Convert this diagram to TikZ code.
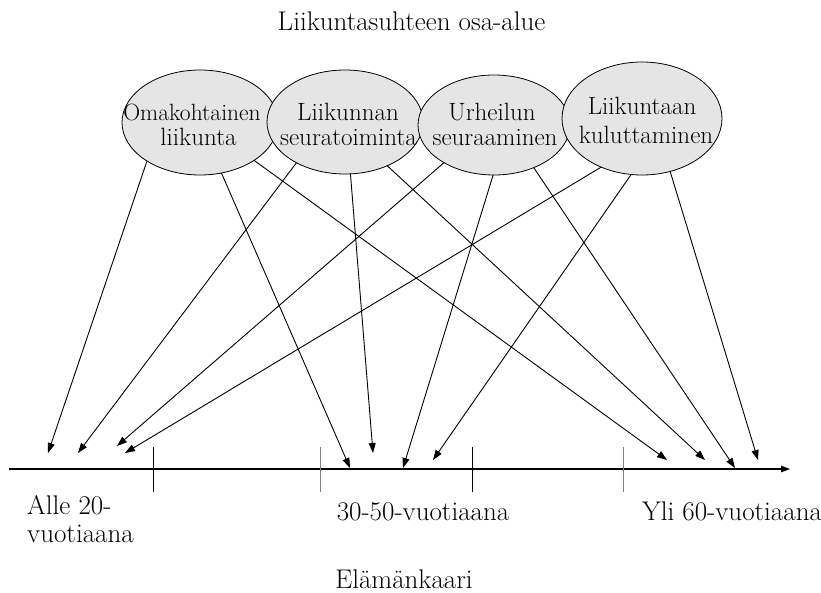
\documentclass[tikz,border=0pt]{standalone}
\usepackage{fontspec}
\usetikzlibrary{arrows.meta,shapes.geometric}
\begin{document}
\begin{tikzpicture}[x=1pt,y=-1pt,
  oval/.style={ellipse,draw=black,line width=0.8pt,fill=black!10,inner sep=0pt,outer sep=0pt},
  etext/.style={anchor=base,inner sep=0pt,font=\fontsize{25}{30}\selectfont},
  ltext/.style={anchor=base,inner sep=0pt,font=\fontsize{27}{32}\selectfont},
  link/.style={line width=0.9pt,-{Triangle[length=10pt,width=7pt]}},
  tickmark/.style={line width=0.9pt},
  axisline/.style={line width=1.1pt,-{Triangle[length=9pt,width=6.5pt]}}]
\useasboundingbox (0,0) rectangle (821,592);

% title
\node[ltext] (title) at (411.5,30) {Liikuntasuhteen osa-alue};

% ellipses
\node[oval,minimum width=156pt,minimum height=105pt] (e1) at (200,122.5) {};
\node[oval,minimum width=156pt,minimum height=104pt] (e2) at (345,122) {};
\node[oval,minimum width=152pt,minimum height=100pt] (e3) at (494,125) {};
\node[oval,minimum width=160pt,minimum height=113pt] (e4) at (642,118.5) {};

% ellipse texts
\node[etext,font=\fontsize{23.5}{28}\selectfont] (e1a) at (192,120) {Omakohtainen};
\node[etext] (e1b) at (198.5,145) {liikunta};
\node[etext] (e2a) at (348,120) {Liikunnan};
\node[etext] (e2b) at (348.5,145) {seuratoiminta};
\node[etext] (e3a) at (492,120) {Urheilun};
\node[etext] (e3b) at (495,145) {seuraaminen};
\node[etext] (e4a) at (642,114) {Liikuntaan};
\node[etext] (e4b) at (646,143) {kuluttaminen};

% axis
\coordinate (axL) at (9,469);
\coordinate (axR) at (790,469);
\draw[axisline] (axL) -- (axR);
\draw[tickmark] (153,447) -- (153,492);
\draw[tickmark,gray] (320,447) -- (320,492);
\draw[tickmark] (472,447) -- (472,492);
\draw[tickmark,gray] (623,447) -- (623,492);

% targets
\coordinate (t1) at (48,453);
\coordinate (t2) at (78,453);
\coordinate (t3) at (117,446);
\coordinate (t4) at (125,453);
\coordinate (t5) at (350,468);
\coordinate (t6) at (373,453);
\coordinate (t7) at (403,468);
\coordinate (t8) at (433,460);
\coordinate (t9) at (667,460);
\coordinate (t10) at (705,460);
\coordinate (t11) at (735,468);
\coordinate (t12) at (758,460);

% connectors
\draw[link] (e1.-144) -- (t1);
\draw[link] (e2.-140.6) -- (t2);
\draw[link] (e3.-143.3) -- (t3);
\draw[link] (e4.-130.3) -- (t4);
\draw[link] (e1.-67.3) -- (t5);
\draw[link] (e2.-84.7) -- (t6);
\draw[link] (e3.-91.1) -- (t7);
\draw[link] (e4.-101.6) -- (t8);
\draw[link] (e1.-35.8) -- (t9);
\draw[link] (e2.-46.9) -- (t10);
\draw[link] (e3.-47.8) -- (t11);
\draw[link] (e4.-62.8) -- (t12);

% bottom labels
\node[ltext,anchor=base west] (l1a) at (27,514) {Alle 20-};
\node[ltext,anchor=base west] (l1b) at (27,542) {vuotiaana};
\node[ltext] (l2) at (423,520) {30-50-vuotiaana};
\node[ltext] (l3) at (732,520) {Yli 60-vuotiaana};
\node[ltext] (xlabel) at (404,588) {Elämänkaari};
\end{tikzpicture}
\end{document}
